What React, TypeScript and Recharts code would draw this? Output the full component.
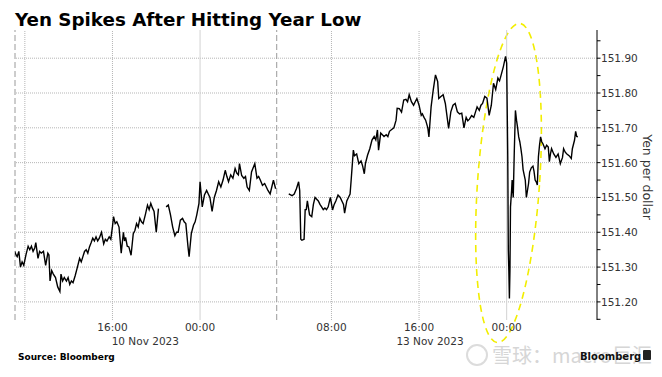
import React from 'react';
import { LineChart, Line, XAxis, YAxis, ReferenceLine, ReferenceArea } from 'recharts';

// Hours of trading time since 10 Nov 2023 07:00 (weekend compressed)
const hours = [
  0.0, 0.2, 0.3, 0.45, 0.6, 0.75, 0.9, 1.1, 1.3, 1.45, 1.6, 1.75, 1.9, 2.0, 2.2, 2.35, 2.5, 2.7, 2.9, 3.1,
  3.2, 3.3, 3.45, 3.6, 3.8, 4.0, 4.2, 4.3, 4.45, 4.6, 4.8, 4.95, 5.1, 5.25, 5.4, 5.6, 5.8, 6.0, 6.15, 6.3,
  6.45, 6.6, 6.75, 6.9, 7.05, 7.2, 7.35, 7.5, 7.65, 7.8, 8.0, 8.2, 8.35, 8.5, 8.7, 8.85, 9.0, 9.1, 9.25, 9.4,
  9.6, 9.8, 10.0, 10.1, 10.2, 10.35, 10.5, 10.7, 10.9, 11.05, 11.2, 11.35, 11.5, 11.65, 11.8, 12.0, 12.2, 12.35, 12.5, 12.65,
  12.8, 13.0, 13.2, 13.5, 13.9, 14.1, 14.3, 14.5, 14.7, 14.85, 15.0, 15.2, 15.4, 15.55, 15.7, 15.9, 16.0, 16.2, 16.4, 16.55,
  16.7, 16.9, 17.0, 17.2, 17.4, 17.6, 17.75, 17.9, 18.1, 18.3, 18.5, 18.7, 18.9, 19.1, 19.3, 19.45, 19.6, 19.8, 20.0, 20.2,
  20.35, 20.5, 20.6, 20.8, 21.0, 21.15, 21.3, 21.5, 21.7, 21.85, 22.0, 22.2, 22.35, 22.5, 22.7, 22.9, 23.05, 23.2, 23.4, 23.55,
  23.7, 23.9, 24.5, 25.1, 25.4, 25.6, 25.8, 26.0, 26.1, 26.2, 26.3, 26.5, 26.6, 26.7, 26.8, 27.0, 27.2, 27.35, 27.5, 27.65,
  27.8, 27.95, 28.1, 28.25, 28.4, 28.55, 28.7, 28.9, 29.1, 29.25, 29.4, 29.6, 29.8, 29.95, 30.1, 30.2, 30.4, 30.55, 30.7, 30.8,
  31.0, 31.1, 31.3, 31.5, 31.7, 31.85, 32.0, 32.1, 32.3, 32.5, 32.7, 32.9, 33.05, 33.2, 33.3, 33.5, 33.65, 33.8, 34.0, 34.15,
  34.3, 34.5, 34.7, 34.9, 35.0, 35.2, 35.4, 35.6, 35.8, 35.95, 36.1, 36.3, 36.5, 36.65, 36.8, 37.0, 37.2, 37.3, 37.45, 37.6,
  37.8, 37.9, 38.1, 38.3, 38.5, 38.7, 38.8, 39.0, 39.2, 39.4, 39.5, 39.7, 39.9, 40.1, 40.3, 40.5, 40.7, 40.9, 41.1, 41.3,
  41.45, 41.6, 41.8, 42.0, 42.15, 42.3, 42.5, 42.65, 42.8, 43.0, 43.2, 43.4, 43.6, 43.8, 44.0, 44.2, 44.35, 44.5, 44.7, 44.9,
  45.0, 45.1, 45.15, 45.2, 45.25, 45.3, 45.35, 45.45, 45.5, 45.6, 45.7, 45.8, 45.9, 46.0, 46.1, 46.2, 46.3, 46.4, 46.5, 46.6,
  46.7, 46.8, 46.9, 47.0, 47.1, 47.25, 47.4, 47.5, 47.6, 47.7, 47.8, 47.9, 48.0, 48.1, 48.2, 48.3, 48.5, 48.65, 48.8, 48.9,
  49.0, 49.1, 49.3, 49.5, 49.7, 49.9, 50.1, 50.2, 50.35, 50.5, 50.7, 50.9, 51.0, 51.2, 51.3, 51.4, 51.5,
];

// Yen per dollar (null = no trading)
const yen: (number | null)[] = [
  151.35, 151.335, 151.33, 151.345, 151.30, 151.315, 151.305, 151.335, 151.36, 151.35, 151.36, 151.345, 151.355, 151.37, 151.325, 151.345, 151.34, 151.345, 151.305, 151.34,
  151.335, 151.26, 151.29, 151.28, 151.27, 151.243, 151.23, 151.28, 151.26, 151.27, 151.26, 151.27, 151.25, 151.26, 151.255, 151.276, 151.30, 151.325, 151.315, 151.33,
  151.345, 151.35, 151.34, 151.358, 151.37, 151.383, 151.375, 151.387, 151.375, 151.383, 151.40, 151.367, 151.38, 151.375, 151.387, 151.38, 151.416, 151.445, 151.425, 151.43,
  151.415, 151.34, 151.40, 151.375, 151.385, 151.36, 151.358, 151.334, 151.396, 151.405, 151.425, 151.415, 151.44, 151.43, 151.425, 151.45, 151.478, 151.465, 151.483, 151.47,
  151.46, 151.40, 151.468, null, 151.473, 151.478, 151.45, 151.415, 151.39, 151.40, 151.40, 151.435, 151.44, 151.43, 151.425, 151.358, 151.33, 151.396, 151.42, 151.43,
  151.45, 151.483, 151.545, 151.473, 151.507, 151.52, 151.51, 151.50, 151.46, 151.50, 151.52, 151.545, 151.53, 151.55, 151.578, 151.56, 151.545, 151.565, 151.555, 151.583,
  151.57, 151.565, 151.597, 151.563, 151.555, 151.56, 151.53, 151.52, 151.573, 151.585, 151.597, 151.555, 151.56, 151.55, 151.535, 151.54, 151.53, 151.52, 151.51, 151.53,
  151.55, 151.525, null, 151.51, 151.505, 151.51, 151.525, 151.545, 151.52, 151.38, 151.377, 151.38, 151.465, 151.465, 151.49, 151.45, 151.445, 151.48, 151.50, 151.495,
  151.49, 151.48, 151.473, 151.465, 151.47, 151.465, 151.473, 151.50, 151.464, 151.48, 151.49, 151.507, 151.50, 151.49, 151.48, 151.455, 151.49, 151.50, 151.51, 151.55,
  151.636, 151.62, 151.625, 151.597, 151.605, 151.59, 151.568, 151.597, 151.622, 151.64, 151.665, 151.675, 151.665, 151.694, 151.636, 151.685, 151.68, 151.675, 151.68, 151.675,
  151.69, 151.695, 151.70, 151.722, 151.756, 151.755, 151.745, 151.78, 151.782, 151.775, 151.795, 151.775, 151.765, 151.775, 151.784, 151.765, 151.736, 151.74, 151.73, 151.722,
  151.70, 151.674, 151.76, 151.81, 151.852, 151.833, 151.784, 151.79, 151.795, 151.77, 151.746, 151.698, 151.746, 151.765, 151.77, 151.746, 151.74, 151.742, 151.70, 151.73,
  151.72, 151.725, 151.735, 151.73, 151.745, 151.76, 151.75, 151.765, 151.77, 151.79, 151.785, 151.736, 151.765, 151.828, 151.81, 151.843, 151.835, 151.852, 151.876, 151.905,
  151.886, 151.617, 151.35, 151.29, 151.21, 151.29, 151.473, 151.52, 151.55, 151.50, 151.636, 151.75, 151.722, 151.70, 151.674, 151.66, 151.64, 151.617, 151.58, 151.565,
  151.55, 151.50, 151.52, 151.54, 151.573, 151.585, 151.59, 151.575, 151.55, 151.545, 151.536, 151.617, 151.65, 151.674, 151.66, 151.655, 151.64, 151.65, 151.645, 151.603,
  151.625, 151.64, 151.625, 151.615, 151.625, 151.597, 151.615, 151.64, 151.63, 151.625, 151.62, 151.612, 151.64, 151.665, 151.69, 151.675, 151.674,
];

const timeTicks = [9, 17, 29, 37, 45];
const timeLabels = ['16:00', '00:00', '08:00', '16:00', '00:00'];
const dateTicks = [12, 38];
const dateLabels = ['10 Nov 2023', '13 Nov 2023'];
const yTicks = [151.15, 151.2, 151.25, 151.3, 151.35, 151.4, 151.45, 151.5, 151.55, 151.6, 151.65, 151.7, 151.75, 151.8, 151.85, 151.9, 151.95];
const yGrid = [151.2, 151.3, 151.4, 151.5, 151.6, 151.7, 151.8, 151.9];
const dottedHourLines = [1, 9, 29, 37];
const midnightLines = [17, 45];
const sessionLines = [0.1, 24];
const xDomain: [number, number] = [0.1, 53.25];
const yDomain: [number, number] = [151.148, 151.981];
const ellipseX: [number, number] = [42.34, 48.0];
const ellipseY: [number, number] = [151.082, 152.001];

const data = hours.map((h, i) => ({ h, v: yen[i] }));

const FONT = 'DejaVu Sans';

const YTick = (props: any) => {
  const { x, y, payload } = props;
  const v = payload.value as number;
  const major = Math.round(v * 100) % 10 === 0;
  return (
    <g>
      <line x1={x} x2={x + 3.5} y1={y} y2={y} stroke="#000" strokeWidth={1} />
      {major && (
        <text x={x + 4} y={y + 4} fontSize={10.5} fill="#333" fontFamily={FONT}>
          {v.toFixed(2)}
        </text>
      )}
    </g>
  );
};

const XTick = (props: any) => {
  const { x, y, payload } = props;
  const idx = timeTicks.indexOf(payload.value);
  return (
    <text x={x} y={y + 11} textAnchor="middle" fontSize={10.5} fill="#333" fontFamily={FONT}>
      {idx >= 0 ? timeLabels[idx] : ''}
    </text>
  );
};

const DateTick = (props: any) => {
  const { x, y, payload } = props;
  const idx = dateTicks.indexOf(payload.value);
  return (
    <text x={x} y={y + 11} textAnchor="middle" fontSize={10.5} fill="#333" fontFamily={FONT}>
      {idx >= 0 ? dateLabels[idx] : ''}
    </text>
  );
};

const EllipseShape = (props: any) => {
  const { x, y, width, height } = props;
  const cx = x + width / 2;
  const cy = y + height / 2;
  return (
    <ellipse
      cx={cx}
      cy={cy}
      rx={Math.abs(width) / 2}
      ry={Math.abs(height) / 2}
      fill="none"
      stroke="#f2ee00"
      strokeWidth={1.6}
      strokeDasharray="7 5"
      transform={`rotate(4 ${cx} ${cy})`}
    />
  );
};

export default function App() {
  return (
    <div style={{ position: 'absolute', left: 0, top: 0, width: 662, height: 377, background: '#fff', overflow: 'hidden' }}>
      <div style={{ position: 'absolute', left: 0, top: 0 }}>
        <LineChart width={662} height={350} data={data} margin={{ top: 30, right: 0, left: 15, bottom: 0 }}>
          <XAxis
            dataKey="h"
            type="number"
            domain={xDomain}
            ticks={timeTicks}
            interval={0}
            tick={<XTick />}
            axisLine={false}
            tickLine={false}
            tickSize={0}
            tickMargin={0}
            height={14}
            allowDataOverflow
          />
          <XAxis
            xAxisId="d"
            dataKey="h"
            type="number"
            domain={xDomain}
            ticks={dateTicks}
            interval={0}
            tick={<DateTick />}
            axisLine={false}
            tickLine={false}
            tickSize={0}
            tickMargin={0}
            height={16}
            allowDataOverflow
          />
          <YAxis
            orientation="right"
            type="number"
            width={65}
            domain={yDomain}
            ticks={yTicks}
            interval={0}
            tick={<YTick />}
            tickLine={false}
            tickSize={0}
            tickMargin={0}
            axisLine={{ stroke: '#000', strokeWidth: 1 }}
            allowDataOverflow
          />
          {yGrid.map((v) => (
            <ReferenceLine key={'hy' + v} y={v} stroke="#b5b5b5" strokeDasharray="1 1" />
          ))}
          {dottedHourLines.map((h) => (
            <ReferenceLine key={'dh' + h} x={h} stroke="#b5b5b5" strokeDasharray="1 1" />
          ))}
          {midnightLines.map((h) => (
            <ReferenceLine key={'mh' + h} x={h} stroke="#d2d2d2" />
          ))}
          {sessionLines.map((h) => (
            <ReferenceLine key={'sh' + h} x={h} stroke="#9a9a9a" strokeDasharray="6 3" />
          ))}
          <Line
            dataKey="v"
            type="linear"
            stroke="#000"
            strokeWidth={1.4}
            dot={false}
            connectNulls={false}
            isAnimationActive={false}
          />
          <ReferenceArea
            x1={ellipseX[0]}
            x2={ellipseX[1]}
            y1={ellipseY[0]}
            y2={ellipseY[1]}
            ifOverflow="visible"
            shape={<EllipseShape />}
          />
        </LineChart>
      </div>
      <svg width={662} height={377} style={{ position: 'absolute', left: 0, top: 0, pointerEvents: 'none' }}>
        <text x={15} y={26} fontSize={18.3} fontWeight="bold" fill="#000" fontFamily={FONT}>
          Yen Spikes After Hitting Year Low
        </text>
        <text
          x={646}
          y={177}
          fontSize={12.5}
          fill="#333"
          fontFamily={FONT}
          textAnchor="middle"
          transform="rotate(90 646 177)"
          dominantBaseline="middle"
        >
          Yen per dollar
        </text>
        <text x={18} y={360} fontSize={9} fontWeight="bold" fill="#000" fontFamily={FONT}>
          Source: Bloomberg
        </text>
        <circle cx={477} cy={355} r={10} fill="none" stroke="#dcdcdc" strokeWidth={2} />
        <text x={492} y={363} fontSize={20} fill="#d6d6d6" fontFamily="Noto Sans CJK SC">
          雪球：macro巨汇
        </text>
        <text x={580} y={360} fontSize={10} fontWeight="bold" fill="#111" fontFamily={FONT}>
          Bloomberg
        </text>
        <rect x={643} y={350} width={8} height={10} rx={1} fill="#222" />
      </svg>
    </div>
  );
}
